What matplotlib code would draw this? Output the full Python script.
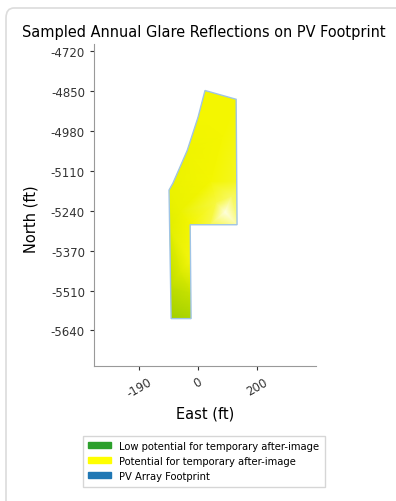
import numpy as np
import matplotlib
matplotlib.use("Agg")
import matplotlib.pyplot as plt
import matplotlib.tri as mtri
from matplotlib.colors import LinearSegmentedColormap
from matplotlib.patches import Polygon, Patch, FancyBboxPatch

# PV array footprint outline (east ft, north ft)
footprint_east = [23, 126, 129, -26, -23, -89, -96, -83, -36, 0]
footprint_north = [-4850, -4879, -5292, -5292, -5601, -5601, -5178, -5155, -5048, -4938]

# sampled glare points inside footprint, level 0 = low potential (green), 0.6 = yellow, 1 = bright
sample_east = [23, 126, 0, 80, -36, 129, 40, -96, 129, 90, 40, -26, -60, -96,
               -23, -60, -89, -23, -89, -23, 60, 110]
sample_north = [-4850, -4879, -4938, -5000, -5048, -5150, -5150, -5178, -5292, -5250,
                -5292, -5292, -5250, -5300, -5415, -5450, -5500, -5520, -5601, -5601,
                -5220, -5200]
sample_level = [0.6, 0.6, 0.6, 0.6, 0.58, 0.65, 0.6, 0.55, 0.85, 0.95,
                0.7, 0.6, 0.55, 0.5, 0.62, 0.45, 0.3, 0.35, 0.15, 0.2,
                0.7, 0.75]

y_ticks = np.linspace(-4720, -5640, 8)
y_labels = ["-4720", "-4850", "-4980", "-5110", "-5240", "-5370", "-5510", "-5640"]
x_ticks = np.linspace(-195, 195, 3)
x_labels = ["-190", "0", "200"]

legend_labels = ["Low potential for temporary after-image",
                 "Potential for temporary after-image",
                 "PV Array Footprint"]
legend_colors = ["#2ca02c", "#ffff00", "#1f77b4"]

fig = plt.figure(figsize=(3.96, 5.02), dpi=100)

# card frame around the figure
fig.patches.append(FancyBboxPatch((6 / 396, -0.05), 1.2, 1 - 9 / 502 + 0.05,
                                  boxstyle="round,pad=0,rounding_size=0.02",
                                  transform=fig.transFigure, fc="white",
                                  ec="#dcdcdc", lw=1.2, zorder=-1))

ax = fig.add_axes([94 / 396, 1 - 367 / 502, 222 / 396, 322 / 502])
ax.set_facecolor("none")

glare_cmap = LinearSegmentedColormap.from_list(
    "glare", [(0.0, "#86c400"), (0.6, "#f4f600"), (1.0, "#ffffff")])

tri = mtri.Triangulation(sample_east, sample_north)
tp = ax.tripcolor(tri, sample_level, cmap=glare_cmap, vmin=0, vmax=1,
                  shading="gouraud", zorder=1)
outline = Polygon(np.column_stack([footprint_east, footprint_north]), closed=True,
                  fill=False, ec="#9fc4e6", lw=1.0, zorder=3)
ax.add_patch(outline)
tp.set_clip_path(outline)

ax.set_xlim(-344, 390)
ax.set_ylim(-5757, -4697)

ax.set_yticks(y_ticks)
ax.set_yticklabels(y_labels, fontsize=8.5)
ax.set_xticks(x_ticks)
ax.set_xticklabels(x_labels, fontsize=8.5, rotation=30)
ax.tick_params(colors="#333333", length=3)

for s in ["top", "right"]:
    ax.spines[s].set_visible(False)
for s in ["left", "bottom"]:
    ax.spines[s].set_color("#999999")

ax.set_xlabel("East (ft)", fontsize=10.5)
ax.set_ylabel("North (ft)", fontsize=10.5)
ax.yaxis.set_label_coords(-0.25, 0.46)

fig.text(204 / 396, 1 - 33 / 502, "Sampled Annual Glare Reflections on PV Footprint",
         ha="center", va="center", fontsize=10.45)

handles = [Patch(color=c) for c in legend_colors]
fig.legend(handles, legend_labels, loc="center", bbox_to_anchor=(204 / 396, 1 - 462 / 502),
           fontsize=7.2, frameon=True, handlelength=2.3, handleheight=0.55,
           labelspacing=0.5, borderpad=0.55, fancybox=False, edgecolor="#cccccc")

fig.savefig("out.png", dpi=100)
